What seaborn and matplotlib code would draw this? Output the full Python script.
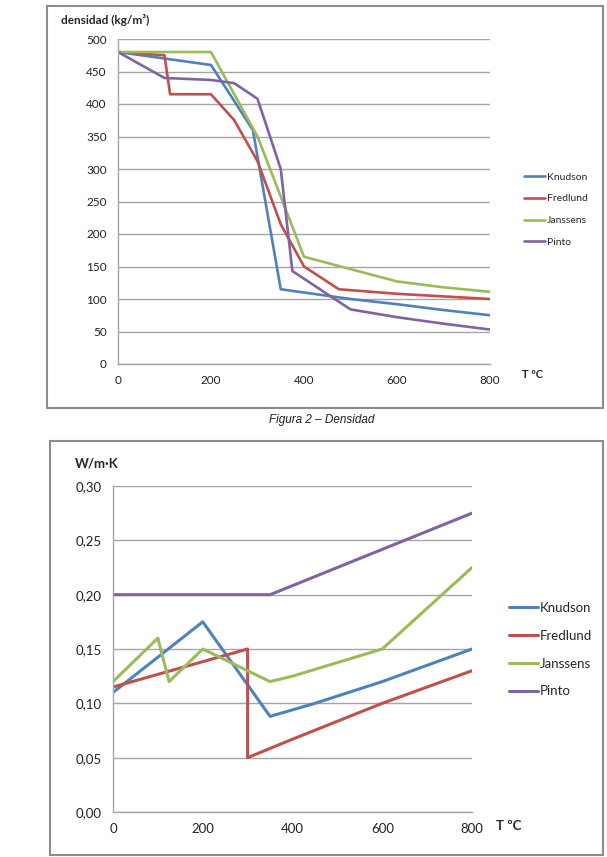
import numpy as np
import pandas as pd
import matplotlib
matplotlib.use("Agg")
import matplotlib.pyplot as plt
from matplotlib.patches import Rectangle
from matplotlib.ticker import FuncFormatter
import seaborn as sns

# densidad (kg/m3) vs T
knudson_T = [0, 100, 200, 290, 350, 400, 450, 500, 600, 700, 800]
knudson_d = [480, 470, 460, 360, 115, 110, 105, 100, 92, 83, 75]
fredlund_T = [0, 100, 112, 200, 250, 300, 350, 400, 475, 600, 700, 800]
fredlund_d = [480, 475, 415, 415, 375, 312, 215, 150, 115, 108, 104, 100]
janssens_T = [0, 200, 300, 400, 500, 600, 700, 800]
janssens_d = [480, 480, 350, 165, 146, 127, 118, 111]
pinto_T = [0, 100, 200, 250, 300, 350, 375, 500, 600, 700, 800]
pinto_d = [480, 440, 437, 432, 408, 300, 143, 84, 72, 62, 53]

# conductividad (W/m.K) vs T
knudson_kT = [0, 200, 350, 450, 600, 800]
knudson_k = [0.11, 0.175, 0.088, 0.10, 0.12, 0.15]
fredlund_kT = [0, 300, 300, 400, 600, 800]
fredlund_k = [0.115, 0.15, 0.05, 0.067, 0.10, 0.13]
janssens_kT = [0, 100, 125, 200, 350, 400, 600, 800]
janssens_k = [0.12, 0.16, 0.12, 0.15, 0.12, 0.125, 0.15, 0.225]
pinto_kT = [0, 350, 400, 600, 800]
pinto_k = [0.20, 0.20, 0.2083, 0.2417, 0.275]

names = ["Knudson", "Fredlund", "Janssens", "Pinto"]
colors = ["#4F81BD", "#C0504D", "#9BBB59", "#8064A2"]


def long_df(pairs):
    rows = []
    for name, (xs, ys) in zip(names, pairs):
        for i, (x, y) in enumerate(zip(xs, ys)):
            rows.append({"T": x, "v": y, "serie": name, "i": i})
    return pd.DataFrame(rows)


dens = long_df([(knudson_T, knudson_d), (fredlund_T, fredlund_d),
                (janssens_T, janssens_d), (pinto_T, pinto_d)])
cond = long_df([(knudson_kT, knudson_k), (fredlund_kT, fredlund_k),
                (janssens_kT, janssens_k), (pinto_kT, pinto_k)])

sns.set_style("white")
plt.rcParams["font.family"] = ["Lato", "DejaVu Sans"]

W, H = 607, 857
fig = plt.figure(figsize=(W / 100, H / 100), dpi=100)


def box(x0, y0, x1, y1):
    return [x0 / W, 1 - y1 / H, (x1 - x0) / W, (y1 - y0) / H]


# outer frames
for (x0, y0, x1, y1) in [(47, 6, 603, 408), (50, 441, 603, 855)]:
    fig.patches.append(Rectangle((x0 / W, 1 - y1 / H), (x1 - x0) / W, (y1 - y0) / H,
                                 transform=fig.transFigure, fill=False,
                                 edgecolor="#8C8C8C", linewidth=1.5))

pal = dict(zip(names, colors))


def style_axes(ax, fs):
    for s in ["top", "right"]:
        ax.spines[s].set_visible(False)
    for s in ["left", "bottom"]:
        ax.spines[s].set_color("#A6A6A6")
        ax.spines[s].set_linewidth(1.0)
    ax.yaxis.grid(True, color="#A6A6A6", linewidth=1.0)
    ax.xaxis.grid(False)
    ax.tick_params(axis="both", direction="out", length=4, width=1,
                   color="#A6A6A6", labelsize=fs, labelcolor="#222222", pad=4)
    ax.set_xlabel("")
    ax.set_ylabel("")


# ---- top: densidad ----
ax1 = fig.add_axes(box(118, 39, 490, 364))
sns.lineplot(data=dens, x="T", y="v", hue="serie", palette=pal, estimator=None,
             units="serie", sort=False, linewidth=1.9, ax=ax1)
ax1.set_xlim(0, 800)
ax1.set_ylim(0, 500)
ax1.set_xticks(np.arange(0, 801, 200))
ax1.set_yticks(np.arange(0, 501, 50))
style_axes(ax1, 8.5)
ax1.legend(loc="upper left", bbox_to_anchor=(515 / W, 1 - 163 / H),
           bbox_transform=fig.transFigure, frameon=False, fontsize=7.5,
           handlelength=2.0, handletextpad=0.2, labelspacing=1.2)
fig.text(61 / W, 1 - 20 / H, "densidad (kg/m\u00b3)", fontsize=8.5,
         fontweight="bold", va="center", ha="left")
fig.text(522 / W, 1 - 375 / H, "T \u00baC", fontsize=8, fontweight="bold",
         va="center", ha="left")
fig.text(322 / W, 1 - 420 / H, "Figura 2 \u2013 Densidad", fontsize=8.5,
         style="italic", family=["Liberation Sans", "DejaVu Sans"],
         va="center", ha="center", color="#222222")

# ---- bottom: conductividad ----
ax2 = fig.add_axes(box(113, 486, 472, 812))
sns.lineplot(data=cond, x="T", y="v", hue="serie", palette=pal, estimator=None,
             units="serie", sort=False, linewidth=2.2, ax=ax2)
ax2.set_xlim(0, 800)
ax2.set_ylim(0, 0.30)
ax2.set_xticks(np.arange(0, 801, 200))
ax2.set_yticks(np.arange(0, 0.301, 0.05))
ax2.yaxis.set_major_formatter(FuncFormatter(lambda v, p: f"{v:.2f}".replace(".", ",")))
style_axes(ax2, 9.5)
ax2.legend(loc="upper left", bbox_to_anchor=(497 / W, 1 - 590 / H),
           bbox_transform=fig.transFigure, frameon=False, fontsize=9.5,
           handlelength=2.2, handletextpad=0.15, labelspacing=1.2)
fig.text(75 / W, 1 - 464 / H, "W/m\u00b7K", fontsize=9.5, fontweight="bold",
         va="center", ha="left")
fig.text(496 / W, 1 - 826 / H, "T \u00baC", fontsize=9.5, fontweight="bold",
         va="center", ha="left")

fig.savefig("out.png", dpi=100)
